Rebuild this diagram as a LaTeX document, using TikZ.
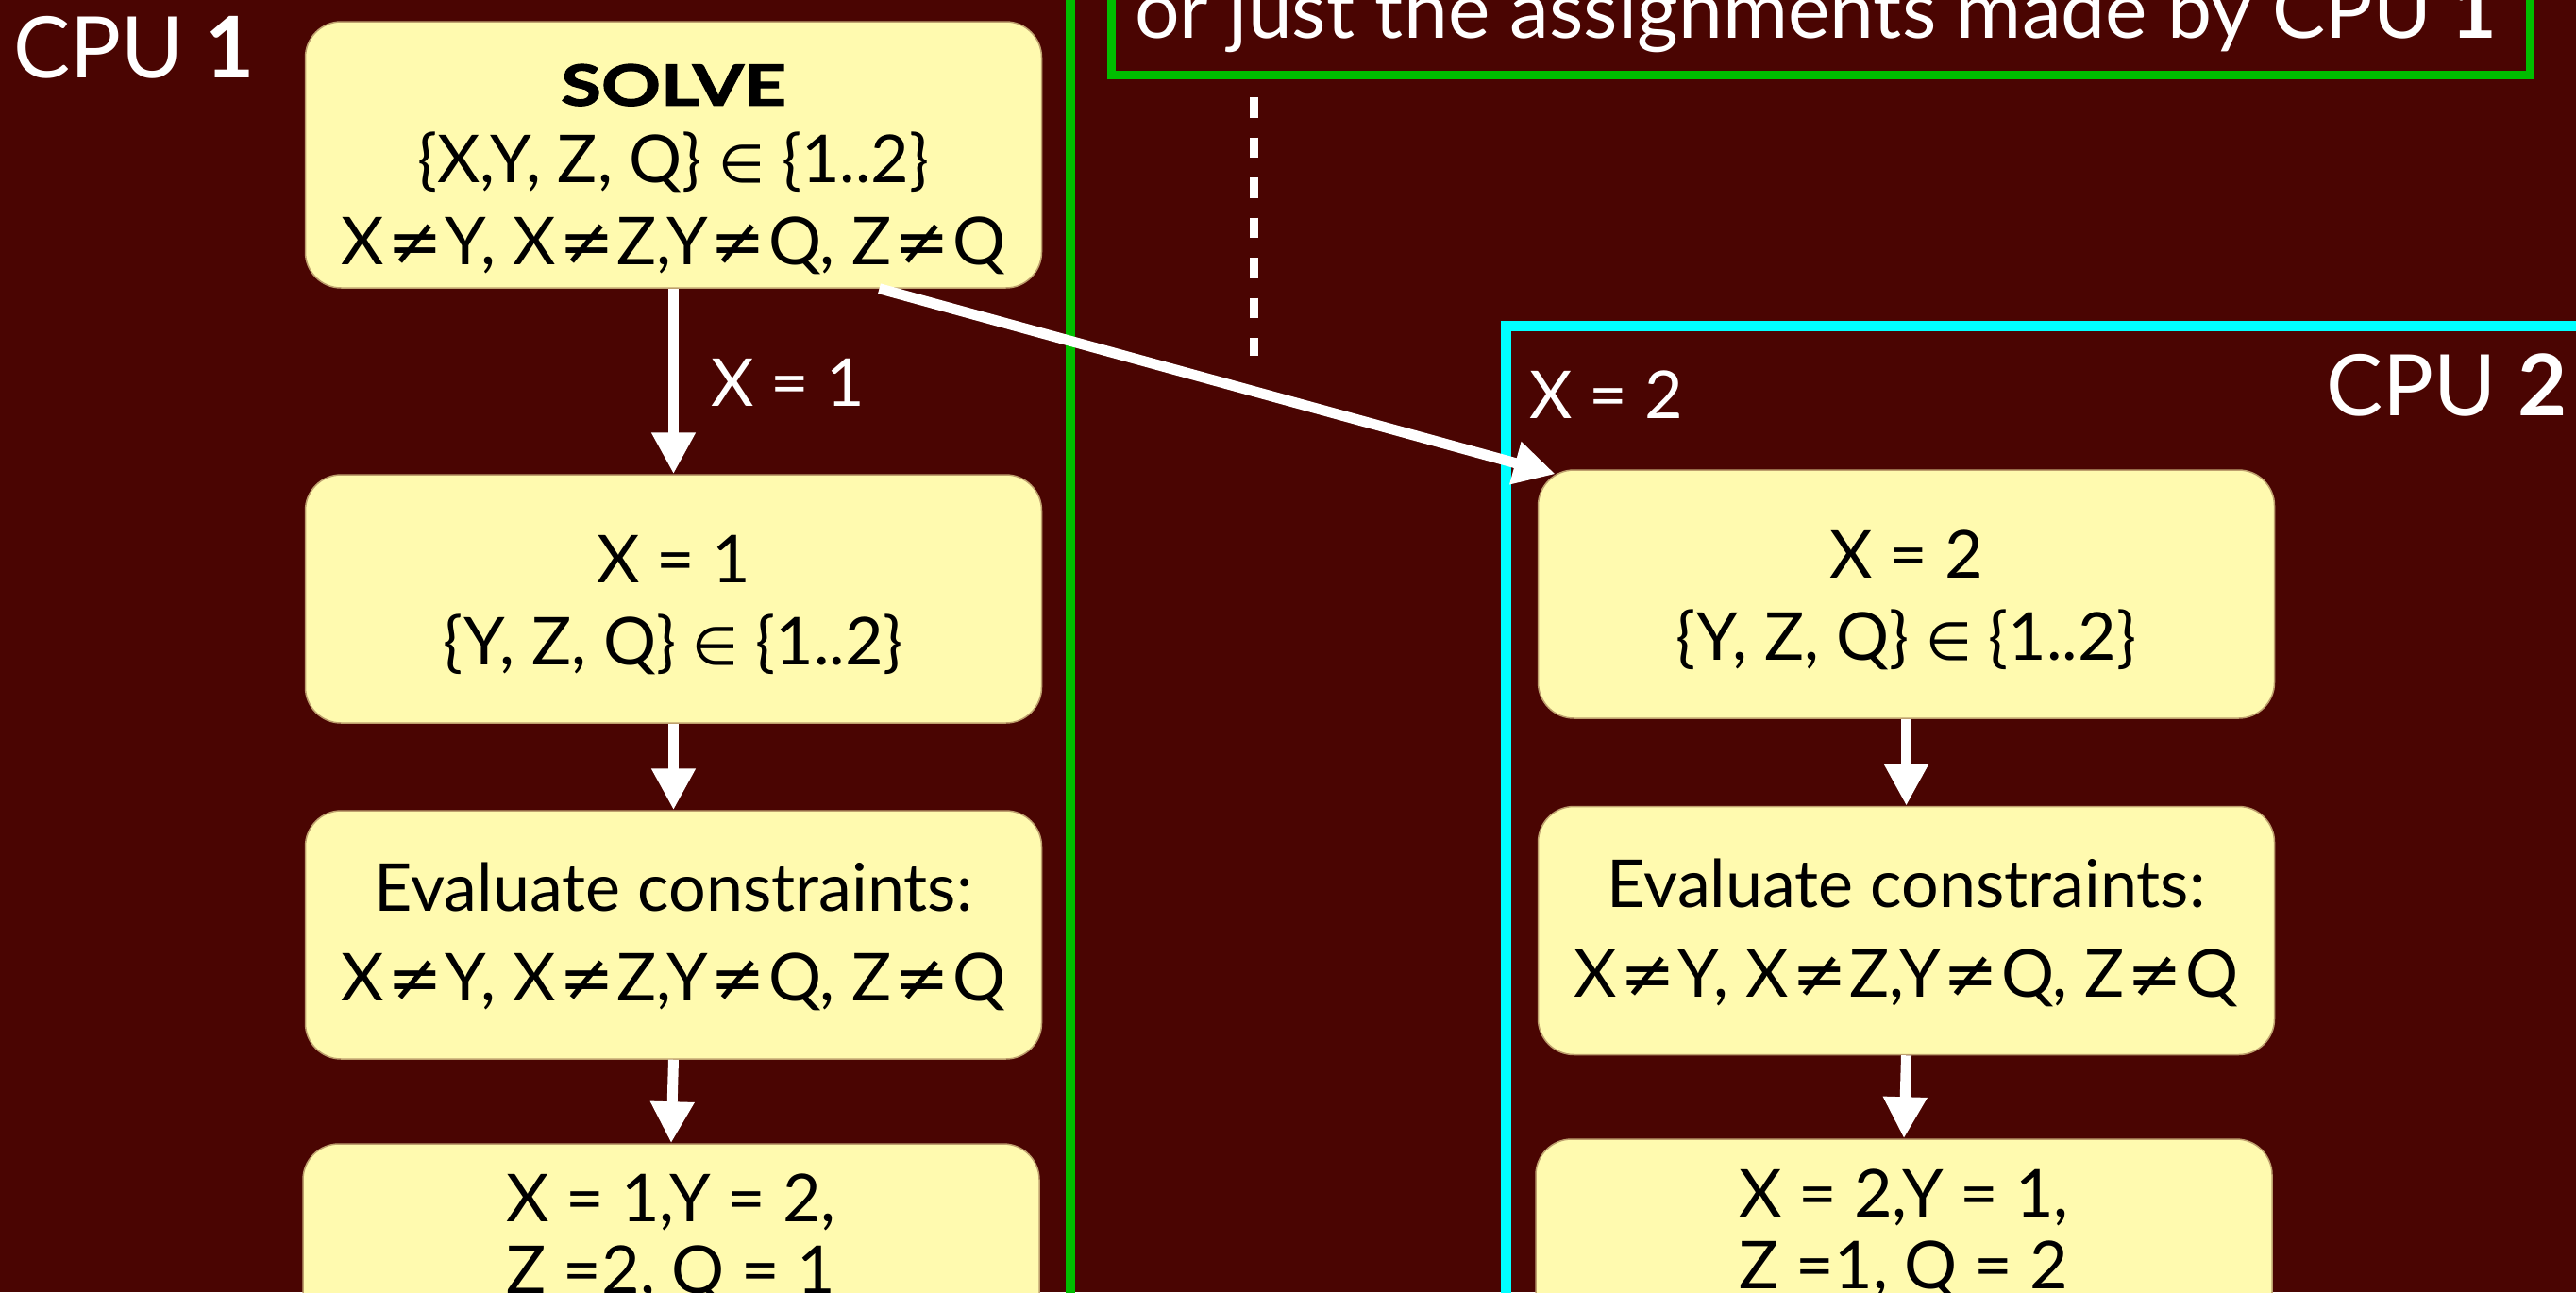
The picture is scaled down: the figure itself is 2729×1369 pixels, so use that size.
\documentclass[tikz,border=0pt]{standalone}
\usepackage{fontspec}
\setmainfont{Lato}
\newfontfamily\symf{DejaVu Sans}
\newfontfamily\solvef[FakeStretch=1.3,FakeBold=2]{Lato}
\usetikzlibrary{arrows.meta,calc}
\definecolor{bg}{RGB}{74,5,2}
\definecolor{boxfill}{RGB}{255,250,175}
\definecolor{boxline}{RGB}{190,160,110}
\definecolor{grn}{RGB}{0,190,0}
\definecolor{cyn}{RGB}{0,255,255}
\newcommand{\elem}{{\symf\fontsize{56}{60}\selectfont ∈}}
\newcommand{\neqs}{\kern3pt{\symf ≠}\kern3pt}
\begin{document}
\begin{tikzpicture}[x=1pt,y=-1pt,
  box/.style={draw=boxline,line width=1.5pt,fill=boxfill,rounded corners=38pt,
    minimum width=780pt,minimum height=263pt,inner sep=0pt,align=center,
    font=\fontsize{70}{87}\selectfont,text=black},
  arr/.style={draw=white,line width=11pt,-{Triangle[length=44pt,width=44pt]}},
  lbl/.style={text=white,inner sep=0pt},
  big/.style={font=\fontsize{90}{100}\selectfont},
  mid/.style={font=\fontsize{70}{87}\selectfont},
]
\useasboundingbox (0,0) rectangle (2729,1369);
\clip (0,0) rectangle (2729,1369);
\fill[bg] (0,0) rectangle (2729,1369);

% dividers and frames
\draw[grn,line width=10pt] (1134,-20) -- (1134,1400);
\draw[grn,line width=9pt] (1177,-100) rectangle (2680,79);
\draw[cyn,line width=11pt] (2800,345) -- (1595,345) -- (1595,1500);

% labels
\node[lbl,big,anchor=base west] (cpu1) at (14,82) {CPU \textbf{1}};
\node[lbl,big,anchor=base east] (cpu2) at (2720,440) {CPU \textbf{2}};
\node[lbl,anchor=base west,font=\fontsize{84}{100}\selectfont] (note) at (1202,40)
  {or just the assignments made by CPU \textbf{1}};
\node[lbl,mid,anchor=base west] (lx1) at (753,430) {X = 1};
\node[lbl,mid,anchor=base west] (lx2) at (1620,443) {X = 2};

% dashed line
\coordinate (d1) at (1328,103);
\coordinate (d2) at (1328,377);
\draw[white,line width=9pt,dash pattern=on 21.5pt off 21pt] (d1) -- (d2);

% CPU 1 column
\node[box,minimum height=282pt] (solve) at (713.5,164)
  {\rule{0pt}{75pt}{\solvef\bfseries\fontsize{60}{87}\selectfont SOLVE}\\[-5pt]
   \{X,Y, Z, Q\} \elem{} \{1..2\}\\[0pt]
   X\neqs{}Y, X\neqs{}Z,Y\neqs{}Q, Z\neqs{}Q};
\node[box] (x1) at (713.5,634.5) {\rule{0pt}{64pt}X = 1\\ \{Y, Z, Q\} \elem{} \{1..2\}};
\node[box] (ev1) at (713.5,990.5) {\rule{0pt}{56pt}Evaluate constraints:\\[8pt] X\neqs{}Y, X\neqs{}Z,Y\neqs{}Q, Z\neqs{}Q};
\node[box,minimum height=200pt] (res1) at (711,1312) {X = 1,Y = 2,\\[-11pt] Z =2, Q = 1};

% CPU 2 column
\node[box] (x2) at (2019.5,629.5) {\rule{0pt}{64pt}X = 2\\ \{Y, Z, Q\} \elem{} \{1..2\}};
\node[box] (ev2) at (2019.5,986) {\rule{0pt}{56pt}Evaluate constraints:\\[8pt] X\neqs{}Y, X\neqs{}Z,Y\neqs{}Q, Z\neqs{}Q};
\node[box,minimum height=200pt] (res2) at (2017,1307) {X = 2,Y = 1,\\[-11pt] Z =1, Q = 2};

% arrows
\draw[arr] (solve.south) -- (x1.north);
\draw[arr] (x1.south) -- (ev1.north);
\draw[arr] (ev1.south) -- (res1.north);
\draw[arr] (x2.south) -- (ev2.north);
\draw[arr] (ev2.south) -- (res2.north);
\draw[arr] ([xshift=218pt]solve.south) -- ([xshift=19pt,yshift=-5pt]x2.north west);
\end{tikzpicture}
\end{document}
